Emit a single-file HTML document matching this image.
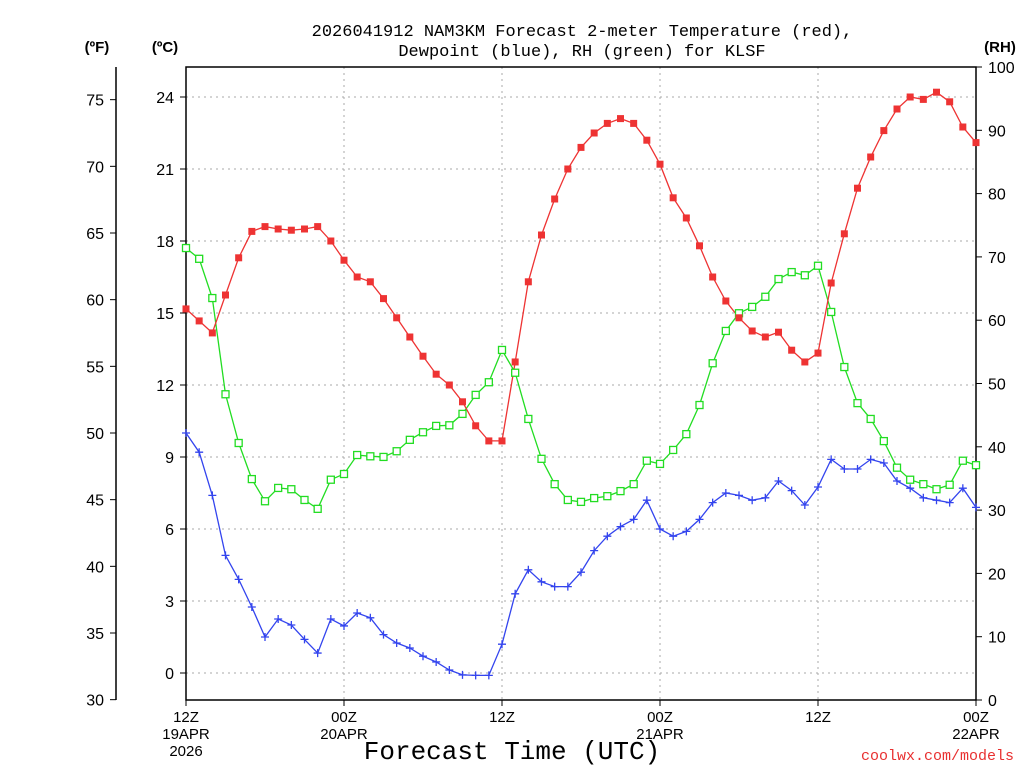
<!DOCTYPE html>
<html><head><meta charset="utf-8"><style>
html,body{margin:0;padding:0;background:#fff;}
svg{display:block;font-family:"Liberation Sans",sans-serif;}
.mono{font-family:"Liberation Mono",monospace;}
</style></head><body>
<svg id="c" width="1024" height="768" xmlns="http://www.w3.org/2000/svg">
<text class="mono" x="582" y="36" text-anchor="middle" font-size="17">2026041912 NAM3KM Forecast 2-meter Temperature (red),</text>
<text class="mono" x="582" y="56" text-anchor="middle" font-size="17">Dewpoint (blue), RH (green) for KLSF</text>
<text x="97" y="52" text-anchor="middle" font-size="15" font-weight="bold">(ºF)</text>
<text x="165" y="52" text-anchor="middle" font-size="15" font-weight="bold">(ºC)</text>
<text x="1000" y="52" text-anchor="middle" font-size="15" font-weight="bold">(RH)</text>
<text class="mono" x="512" y="759" text-anchor="middle" font-size="26">Forecast Time (UTC)</text>
<text class="mono" x="1014" y="760" text-anchor="end" font-size="15" fill="#e83030">coolwx.com/models</text>
<g id="g"></g>
</svg>
<script>
const tempC=[15.17,14.67,14.17,15.75,17.3,18.4,18.6,18.5,18.45,18.5,18.6,18.0,17.2,16.5,16.3,15.6,14.8,14.0,13.2,12.45,12.0,11.3,10.3,9.67,9.67,12.96,16.3,18.25,19.75,21.0,21.9,22.5,22.9,23.1,22.9,22.2,21.2,19.8,18.96,17.8,16.5,15.5,14.8,14.25,14.0,14.2,13.45,12.96,13.33,16.25,18.3,20.2,21.5,22.6,23.5,24.0,23.9,24.2,23.8,22.75,22.1];
const dewC=[10.0,9.2,7.4,4.9,3.9,2.75,1.5,2.25,2.0,1.4,0.83,2.25,1.96,2.5,2.3,1.6,1.25,1.04,0.7,0.46,0.125,-0.08,-0.1,-0.1,1.2,3.3,4.3,3.8,3.6,3.6,4.2,5.1,5.7,6.1,6.4,7.2,6.0,5.7,5.9,6.4,7.1,7.5,7.4,7.2,7.3,8.0,7.6,7.0,7.75,8.9,8.5,8.5,8.9,8.75,8.0,7.7,7.3,7.2,7.1,7.7,6.9];
const rhPct=[71.4,69.7,63.5,48.3,40.6,34.9,31.4,33.5,33.3,31.6,30.2,34.8,35.7,38.7,38.5,38.4,39.3,41.1,42.3,43.3,43.4,45.2,48.2,50.2,55.3,51.7,44.4,38.1,34.1,31.6,31.3,31.9,32.2,33.0,34.1,37.8,37.3,39.5,42.0,46.6,53.2,58.3,61.1,62.1,63.7,66.5,67.6,67.1,68.6,61.3,52.6,46.9,44.4,40.9,36.7,34.8,34.1,33.3,34.0,37.8,37.1];
const cTicks=[0,3,6,9,12,15,18,21,24];
const fTicks=[30,35,40,45,50,55,60,65,70,75];
const rhTicks=[0,10,20,30,40,50,60,70,80,90,100];
const xTickHours=[0,12,24,36,48,60];
const xTickLabels=[["12Z","19APR","2026"],["00Z","20APR"],["12Z"],["00Z","21APR"],["12Z"],["00Z","22APR"]];

const L=186,R=976,T=67,B=700;
const xh=h=>L+(R-L)*h/60;
const yc=c=>673-24*c;
const yf=f=>yc((f-32)*5/9);
const yr=r=>B-(B-T)*r/100;
const g=document.getElementById('g');
const NS='http://www.w3.org/2000/svg';
function mk(tag,a,par){const e=document.createElementNS(NS,tag);for(const k in a)e.setAttribute(k,a[k]);(par||g).appendChild(e);return e;}

cTicks.forEach(c=>{const e=mk('line',{x1:L,x2:R,y1:yc(c),y2:yc(c),stroke:'#aaa','stroke-dasharray':'2,4'});

});
xTickHours.slice(1,5).forEach(h=>{const e=mk('line',{x1:xh(h),x2:xh(h),y1:T,y2:B,stroke:'#aaa','stroke-dasharray':'2,4'});

});
const fr=mk('rect',{x:L,y:T,width:R-L,height:B-T,fill:'none',stroke:'#000','stroke-width':1.5});


const fa=mk('line',{x1:116,x2:116,y1:T,y2:B,stroke:'#000','stroke-width':1.5});


fTicks.forEach(f=>{const y=yf(f);mk('line',{x1:110,x2:116,y1:y,y2:y,stroke:'#000'});
const t=mk('text',{x:104,y:y+6,'text-anchor':'end','font-size':16});t.textContent=f;

});
cTicks.forEach(c=>{const y=yc(c);mk('line',{x1:180,x2:186,y1:y,y2:y,stroke:'#000'});
const t=mk('text',{x:174,y:y+6,'text-anchor':'end','font-size':16});t.textContent=c;

});
rhTicks.forEach(r=>{const y=yr(r);mk('line',{x1:R,x2:R+6,y1:y,y2:y,stroke:'#000'});
const t=mk('text',{x:988,y:y+6,'font-size':16});t.textContent=r;

});
xTickHours.forEach((h,i)=>{const x=xh(h);mk('line',{x1:x,x2:x,y1:B,y2:B+6,stroke:'#000'});
xTickLabels[i].forEach((s,j)=>{const t=mk('text',{x:x,y:722+j*17,'text-anchor':'middle','font-size':15});t.textContent=s;

});});
function line(arr,yfn,col,name){const p=arr.map((v,i)=>xh(i).toFixed(1)+','+yfn(v).toFixed(1)).join(' ');
const e=mk('polyline',{points:p,fill:'none',stroke:col,'stroke-width':1.3});

}
line(rhPct,yr,'#22dd22','rh-line');
line(tempC,yc,'#ee3333','temperature-line');
line(dewC,yc,'#3344ee','dewpoint-line');
rhPct.forEach((v,i)=>{const e=mk('rect',{x:xh(i)-3.5,y:yr(v)-3.5,width:7,height:7,fill:'#fff',stroke:'#22dd22','stroke-width':1.3});

});
tempC.forEach((v,i)=>{const e=mk('rect',{x:xh(i)-3.5,y:yc(v)-3.5,width:7,height:7,fill:'#ee3333'});

});
dewC.forEach((v,i)=>{const x=xh(i),y=yc(v);
const e=mk('path',{d:`M${x-4},${y}H${x+4}M${x},${y-4}V${y+4}`,stroke:'#3344ee','stroke-width':1.3});

});
</script>
</body></html>
